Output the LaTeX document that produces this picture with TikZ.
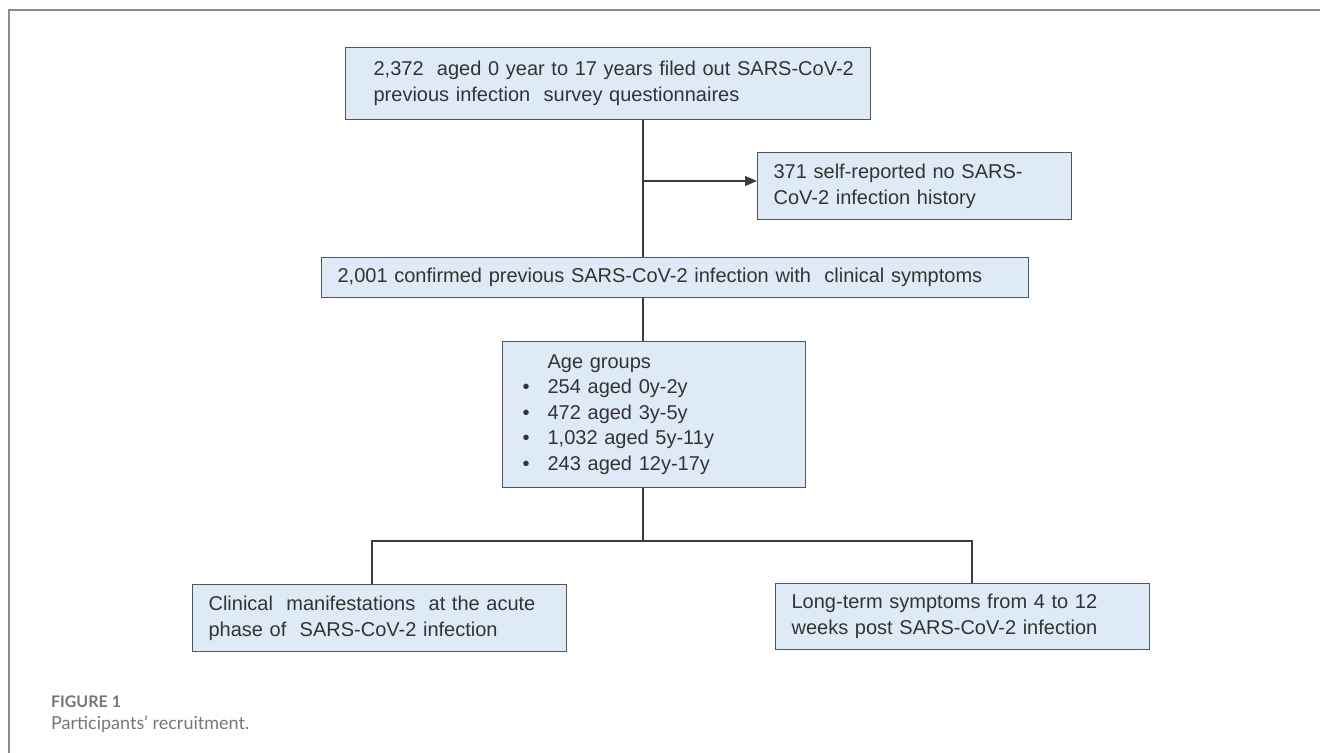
\documentclass[tikz,border=0pt]{standalone}
\usepackage{fontspec}
\setmainfont{Liberation Sans}
\newfontfamily\capfont{Lato}
\usetikzlibrary{arrows.meta}

\begin{document}
\begin{tikzpicture}[x=0.5pt, y=-0.5pt,
	flowbox/.style={draw=boxline, fill=boxfill, text=boxtext, line width=0.6pt, anchor=north west,
		align=left, inner xsep=8pt, inner ysep=0pt, font=\fontsize{10}{13}\selectfont},
	link/.style={draw=linkgray, line width=0.6pt}]
	\definecolor{boxfill}{HTML}{DEEBF7}
	\definecolor{boxline}{HTML}{555555}
	\definecolor{boxtext}{HTML}{333333}
	\definecolor{linkgray}{HTML}{3C3C3C}
	\definecolor{framegray}{HTML}{8A8A8A}
	\definecolor{captext}{HTML}{767676}
	\useasboundingbox (0,0) rectangle (1320,753);
	\draw[framegray, line width=0.6pt] (9,753) -- (9,10) -- (1320,10);
	% boxes
	\node[flowbox, text width=246.5pt, minimum height=36pt] (survey) at (345,47)
		{\hspace*{6pt}2,372\ \ aged 0 year to 17 years filed out SARS-CoV-2\\
		 \hspace*{6pt}previous infection\ \ survey questionnaires};
	\node[flowbox, text width=141pt, minimum height=33.5pt] (noinf) at (757,152)
		{371 self-reported no SARS-\\ CoV-2 infection history};
	\node[flowbox, text width=337.5pt, minimum height=20pt] (confirmed) at (321,257)
		{2,001 confirmed previous SARS-CoV-2 infection with\ \ clinical symptoms};
	\node[flowbox, inner xsep=10pt, text width=131.5pt, minimum height=73pt,
		font=\fontsize{10}{12.75}\selectfont] (agegrp) at (502,341)
		{\hspace*{12.5pt}Age groups\\
		 \makebox[12.5pt][l]{\textbullet}254 aged 0y-2y\\
		 \makebox[12.5pt][l]{\textbullet}472 aged 3y-5y\\
		 \makebox[12.5pt][l]{\textbullet}1,032 aged 5y-11y\\
		 \makebox[12.5pt][l]{\textbullet}243 aged 12y-17y};
	\node[flowbox, text width=171pt, minimum height=33.5pt] (acute) at (192,584)
		{Clinical\ \ manifestations\ \ at the acute\\ phase of\ \ SARS-CoV-2 infection};
	\node[flowbox, text width=171pt, minimum height=33pt] (longterm) at (775,583)
		{Long-term symptoms from 4 to 12\\ weeks post SARS-CoV-2 infection};
	% connectors
	\coordinate (trunk) at (643,181);
	\coordinate (split) at (643,541);
	\coordinate (leftdrop) at (372,541);
	\coordinate (rightdrop) at (972,541);
	\draw[link] (survey.south -| trunk) -- (confirmed.north -| trunk);
	\draw[link, -{Triangle[length=6pt, width=5pt]}] (trunk) -- (trunk -| noinf.west);
	\draw[link] (confirmed.south -| trunk) -- (agegrp.north -| trunk);
	\draw[link] (agegrp.south -| split) -- (split);
	\draw[link] (acute.north -| leftdrop) -- (leftdrop) -- (rightdrop) -- (longterm.north -| rightdrop);
	% caption
	\node[anchor=west, text=captext, font=\capfont\bfseries\fontsize{8}{10}\selectfont] (fignum) at (44,702) {FIGURE 1};
	\node[anchor=west, text=captext, font=\capfont\fontsize{9}{11}\selectfont] (figcap) at (44,724) {Participants’ recruitment.};
\end{tikzpicture}
\end{document}
